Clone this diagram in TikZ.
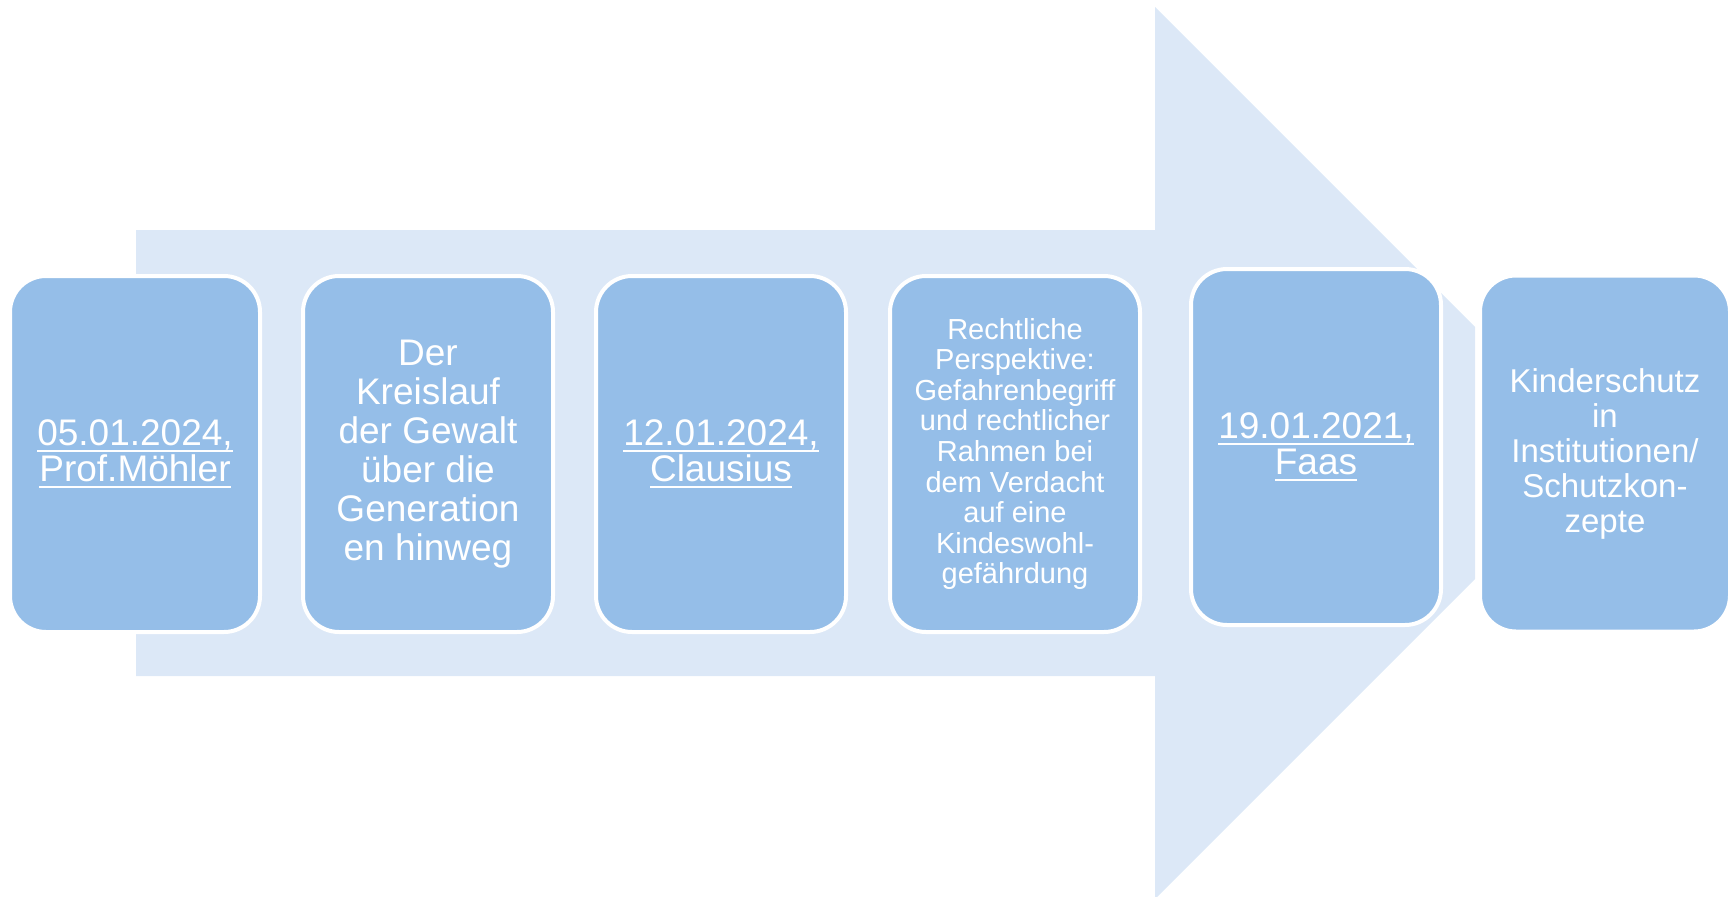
\documentclass[tikz,border=0pt]{standalone}
\usepackage{fontspec}
\setmainfont{Liberation Sans}
\definecolor{boxblue}{RGB}{149,190,232}
\definecolor{arrowblue}{RGB}{220,232,247}
\newcommand{\lnk}[1]{\setbox0\hbox{#1}\rlap{\rule[-7pt]{\wd0}{2.5pt}}\box0}
\begin{document}
\begin{tikzpicture}[x=1pt,y=-1pt,
  card/.style={rounded corners=36pt, fill=boxblue, draw=white, line width=4pt,
    minimum width=250pt, minimum height=356pt, text=white, align=center, inner sep=0pt},
  datetext/.style={font=\fontsize{37}{36}\selectfont},
  bigtext/.style={font=\fontsize{37}{39}\selectfont},
  midtext/.style={font=\fontsize{33}{35}\selectfont},
  smalltext/.style={font=\fontsize{29}{30.6}\selectfont}]
\useasboundingbox (0,0) rectangle (1733,897);
\clip (0,0) rectangle (1733,897);
\fill[arrowblue] (136,230) -- (1155,230) -- (1155,7) -- (1475,327) -- (1475,579)
  -- (1155,899) -- (1155,676) -- (136,676) -- cycle;
\node[card, datetext] (b1) at (135,454) {\lnk{05.01.2024,}\\\lnk{Prof.Möhler}};
\node[card, bigtext] (b2) at (428,454) {Der\\Kreislauf\\der Gewalt\\über die\\Generation\\en hinweg};
\node[card, datetext] (b3) at (721,454) {\lnk{12.01.2024,}\\\lnk{Clausius}};
\node[card, smalltext] (b4) at (1015,454) {Rechtliche\\Perspektive:\\Gefahrenbegriff\\und rechtlicher\\Rahmen bei\\dem Verdacht\\auf eine\\Kindeswohl-\\gefährdung};
\node[card, datetext] (b5) at (1316,447) {\lnk{19.01.2021,}\\\lnk{Faas}};
\node[card, midtext] (b6) at (1605,453.5) {Kinderschutz\\in\\Institutionen/\\Schutzkon-\\zepte};
\end{tikzpicture}
\end{document}
